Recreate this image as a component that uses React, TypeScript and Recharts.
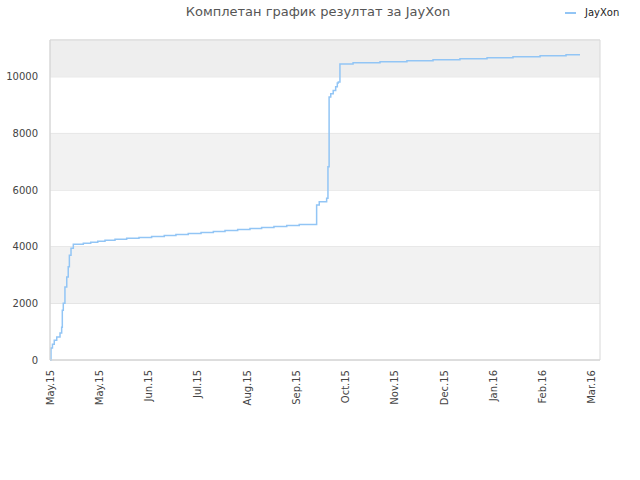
import {
  CartesianGrid,
  Line,
  LineChart,
  ReferenceArea,
  XAxis,
  YAxis,
} from "recharts";

// day offsets from the first result, and the running total at that day
const days = [
  0, 0.6, 1.5, 2.6, 4.1, 6.1, 7.1, 7.5, 8.1, 9.1, 10.2, 11.1, 11.8, 12.8,
  14.2, 20.3, 24.8, 29.1, 33.5, 39.6, 46.7, 54.2, 61.9, 69.6, 76.7, 84.2,
  92, 99.5, 106.6, 114.3, 121.8, 128.9, 136.4, 144.2, 151.8,
  162.4, 164, 168.5, 169.3, 170, 171, 172.5, 174, 175, 175.6, 176.6,
  184.6, 201, 217.4, 233.3, 249.7, 266.2, 282, 298.5, 314.3, 322.8,
];
const scores = [
  0, 420, 560, 700, 810, 950, 1160, 1760, 2000, 2580, 2930, 3290, 3700, 3950,
  4085, 4120, 4155, 4190, 4225, 4260, 4295, 4330, 4365, 4400, 4435, 4470,
  4505, 4540, 4575, 4610, 4645, 4680, 4715, 4750, 4785,
  5470, 5590, 5710, 6820, 9290, 9400, 9520, 9650, 9780, 9820, 10450,
  10495, 10530, 10565, 10600, 10640, 10670, 10705, 10740, 10780, 10780,
];

const monthTicks = [0, 30, 60, 90, 120, 150, 180, 210, 240, 270, 300, 330];
const monthLabels = [
  "May.15", "May.15", "Jun.15", "Jul.15", "Aug.15", "Sep.15",
  "Oct.15", "Nov.15", "Dec.15", "Jan.16", "Feb.16", "Mar.16",
];
const yTicks = [0, 2000, 4000, 6000, 8000, 10000];
const bands = [
  [2000, 4000],
  [6000, 8000],
];

const data = days.map((d, i) => ({ day: d, score: scores[i] }));

const font = "DejaVu Sans, sans-serif";

function XTick({ x, y, payload }: any) {
  return (
    <text
      x={x}
      y={y}
      transform={`rotate(-90, ${x}, ${y})`}
      textAnchor="end"
      dominantBaseline="central"
      fontSize={10}
      fontFamily={font}
      fill="#444"
    >
      {monthLabels[monthTicks.indexOf(payload.value)]}
    </text>
  );
}

export default function App() {
  return (
    <div style={{ position: "absolute", left: 0, top: 0, width: 640, height: 480, background: "#fff" }}>
      <div
        style={{
          position: "absolute",
          top: 4,
          left: 0,
          width: 636,
          textAlign: "center",
          fontFamily: font,
          fontSize: 13,
          color: "#555",
        }}
      >
        Комплетан график резултат за JayXon
      </div>
      <div
        style={{
          position: "absolute",
          top: 7,
          left: 565,
          display: "flex",
          alignItems: "center",
          fontFamily: font,
          fontSize: 10,
          color: "#222",
        }}
      >
        <span style={{ display: "inline-block", width: 11, height: 2, background: "#92c5f5", marginRight: 9 }} />
        JayXon
      </div>
      <LineChart
        width={640}
        height={480}
        data={data}
        margin={{ top: 40, right: 40, left: 0, bottom: 0 }}
      >
        {bands.map(([a, b]) => (
          <ReferenceArea key={a} y1={a} y2={b} fill="#f2f2f2" fillOpacity={1} strokeOpacity={0} />
        ))}
        <ReferenceArea y1={10000} y2={11300} fill="#eeeeee" fillOpacity={1} strokeOpacity={0} />
        <CartesianGrid vertical={false} stroke="#dddddd" />
        <ReferenceArea
          x1={0}
          x2={335}
          y1={0}
          y2={11300}
          fill="none"
          stroke="#d8d8d8"
          ifOverflow="visible"
        />
        <XAxis
          dataKey="day"
          type="number"
          domain={[0, 335]}
          ticks={monthTicks}
          interval={0}
          height={120}
          tickLine={false}
          axisLine={{ stroke: "#d8d8d8" }}
          tick={<XTick />}
          tickSize={6}
          tickMargin={4}
        />
        <YAxis
          type="number"
          domain={[0, 11300]}
          ticks={yTicks}
          width={50}
          tickLine={false}
          axisLine={{ stroke: "#d8d8d8" }}
          tickMargin={6}
          tick={{ fontSize: 10, fontFamily: font, fill: "#444" }}
        />
        <Line
          type="stepAfter"
          dataKey="score"
          stroke="#92c5f5"
          strokeWidth={1.5}
          dot={false}
          isAnimationActive={false}
        />
      </LineChart>
    </div>
  );
}
